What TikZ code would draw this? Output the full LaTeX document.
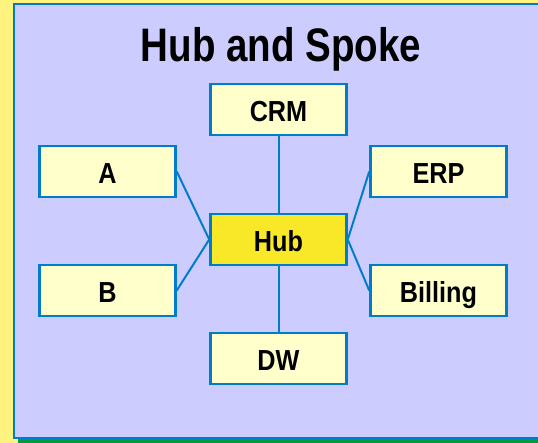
\documentclass[tikz,border=0pt]{standalone}
\usepackage{fontspec}
\setmainfont{Liberation Sans}[FakeStretch=0.87]
\newfontfamily\titolofont{Liberation Sans}[FakeStretch=0.82]
\definecolor{sfondo}{RGB}{255,243,128}
\definecolor{pannello}{RGB}{204,204,255}
\definecolor{bordo}{RGB}{0,125,200}
\definecolor{verde}{RGB}{0,153,68}
\definecolor{scatola}{RGB}{255,255,204}
\definecolor{centro}{RGB}{248,232,40}

\begin{document}
\begin{tikzpicture}[x=1pt, y=-1pt,
    sistema/.style={draw=bordo, line width=2.5pt, fill=scatola, minimum width=136pt, minimum height=51pt, inner sep=0pt, font=\bfseries\fontsize{29}{30}\selectfont, text height=24pt, text depth=0pt},
    arco/.style={bordo, line width=2pt}]
        % Sfondo
        \useasboundingbox (0,0) rectangle (538,443);
        \fill[sfondo] (0,0) rectangle (538,443);
        \fill[verde] (18,439) rectangle (538,443);
        \draw[bordo, line width=2.5pt, fill=pannello] (13.8,4) rectangle (545,437.8);

        % Nodi
        \node[font=\titolofont\bfseries\fontsize{47}{48}\selectfont, anchor=base] (titolo) at (281,61.7) {Hub and Spoke};
        \node[sistema, fill=centro] (hub) at (278.5,239.5) {Hub};
        \node[sistema] (crm) at (278.5,109.5) {CRM};
        \node[sistema] (dw) at (278.5,358.5) {DW};
        \node[sistema] (a) at (107.5,171.5) {A};
        \node[sistema] (b) at (107.5,290.5) {B};
        \node[sistema] (erp) at (438.5,171.5) {ERP};
        \node[sistema] (billing) at (438.5,290.5) {Billing};

        % Archi
        \draw[arco] (crm) -- (hub); % Arco da CRM a Hub
        \draw[arco] (hub) -- (dw); % Arco da Hub a DW
        \draw[arco] (a.east) -- (hub.west); % Arco da A a Hub
        \draw[arco] (b.east) -- (hub.west); % Arco da B a Hub
        \draw[arco] (erp.west) -- (hub.east); % Arco da ERP a Hub
        \draw[arco] (billing.west) -- (hub.east); % Arco da Billing a Hub

    \end{tikzpicture}
\end{document}
